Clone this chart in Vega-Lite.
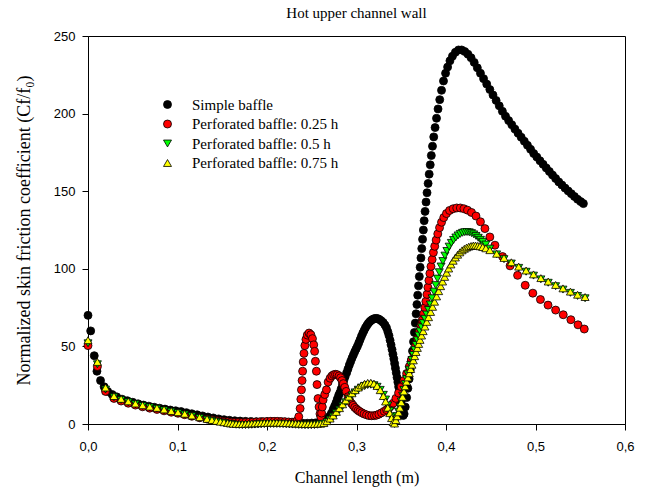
{
"$schema": "https://vega.github.io/schema/vega-lite/v6.json",
"width": 537,
"height": 388,
"autosize": {"type": "none"},
"padding": {"left": 88, "top": 36, "right": 25, "bottom": 66},
"background": "white",
"title": {"text": "Hot upper channel wall", "font": "Liberation Serif", "fontSize": 15, "fontWeight": "normal", "color": "black", "offset": 9},
"data": {"values": [
{"g":"a","x":0,"y":70},{"g":"a","x":0.003,"y":60},{"g":"a","x":0.007,"y":44},{"g":"a","x":0.01,"y":34},{"g":"a","x":0.014,"y":28},{"g":"a","x":0.018,"y":24},{"g":"a","x":0.022,"y":21},{"g":"a","x":0.027,"y":19},{"g":"a","x":0.032,"y":17.5},{"g":"a","x":0.038,"y":16},{"g":"a","x":0.044,"y":15},{"g":"a","x":0.05,"y":14},{"g":"a","x":0.056,"y":13},{"g":"a","x":0.062,"y":12.2},{"g":"a","x":0.068,"y":11.5},{"g":"a","x":0.074,"y":10.8},{"g":"a","x":0.08,"y":10.2},{"g":"a","x":0.086,"y":9.6},{"g":"a","x":0.092,"y":9},{"g":"a","x":0.098,"y":8.5},{"g":"a","x":0.104,"y":8},{"g":"a","x":0.11,"y":7.3},{"g":"a","x":0.116,"y":6.6},{"g":"a","x":0.122,"y":5.9},{"g":"a","x":0.128,"y":5.2},{"g":"a","x":0.134,"y":4.5},{"g":"a","x":0.14,"y":3.9},{"g":"a","x":0.146,"y":3.3},{"g":"a","x":0.152,"y":2.8},{"g":"a","x":0.158,"y":2.4},{"g":"a","x":0.164,"y":2.1},{"g":"a","x":0.17,"y":1.9},{"g":"a","x":0.176,"y":1.7},{"g":"a","x":0.182,"y":1.6},{"g":"a","x":0.188,"y":1.5},{"g":"a","x":0.194,"y":1.5},{"g":"a","x":0.2,"y":1.5},{"g":"a","x":0.205,"y":1.5},{"g":"a","x":0.21,"y":1.4},{"g":"a","x":0.215,"y":1.3},{"g":"a","x":0.22,"y":1.2},{"g":"a","x":0.225,"y":1},{"g":"a","x":0.23,"y":0.8},{"g":"a","x":0.235,"y":0.6},{"g":"a","x":0.24,"y":0.5},{"g":"a","x":0.245,"y":0.5},{"g":"a","x":0.25,"y":0.6},{"g":"a","x":0.254,"y":0.7},{"g":"a","x":0.2565,"y":0.8},{"g":"a","x":0.259,"y":1},{"g":"a","x":0.262,"y":1.6},{"g":"a","x":0.265,"y":2.5},{"g":"a","x":0.2675,"y":3.7},{"g":"a","x":0.27,"y":5},{"g":"a","x":0.272,"y":7},{"g":"a","x":0.274,"y":9.5},{"g":"a","x":0.2755,"y":11.4},{"g":"a","x":0.277,"y":13.5},{"g":"a","x":0.2785,"y":16},{"g":"a","x":0.28,"y":18.3},{"g":"a","x":0.2813,"y":20},{"g":"a","x":0.2828,"y":22.5},{"g":"a","x":0.2843,"y":25.3},{"g":"a","x":0.2858,"y":28},{"g":"a","x":0.2873,"y":30.5},{"g":"a","x":0.289,"y":33},{"g":"a","x":0.2905,"y":35.5},{"g":"a","x":0.292,"y":38},{"g":"a","x":0.2935,"y":40.3},{"g":"a","x":0.295,"y":42.5},{"g":"a","x":0.2965,"y":44.5},{"g":"a","x":0.298,"y":46.5},{"g":"a","x":0.2995,"y":48.3},{"g":"a","x":0.301,"y":50.1},{"g":"a","x":0.3025,"y":52.2},{"g":"a","x":0.304,"y":54.3},{"g":"a","x":0.3055,"y":56.5},{"g":"a","x":0.307,"y":58.5},{"g":"a","x":0.3085,"y":60.3},{"g":"a","x":0.31,"y":62},{"g":"a","x":0.3115,"y":63.4},{"g":"a","x":0.313,"y":64.7},{"g":"a","x":0.3145,"y":65.8},{"g":"a","x":0.316,"y":66.6},{"g":"a","x":0.3175,"y":67.2},{"g":"a","x":0.319,"y":67.7},{"g":"a","x":0.3207,"y":68},{"g":"a","x":0.3224,"y":68},{"g":"a","x":0.324,"y":67.8},{"g":"a","x":0.3255,"y":67.4},{"g":"a","x":0.3275,"y":66.6},{"g":"a","x":0.3298,"y":65.4},{"g":"a","x":0.3318,"y":63.8},{"g":"a","x":0.3335,"y":62},{"g":"a","x":0.335,"y":59.5},{"g":"a","x":0.3363,"y":57},{"g":"a","x":0.3375,"y":54},{"g":"a","x":0.3386,"y":51},{"g":"a","x":0.3397,"y":48},{"g":"a","x":0.3407,"y":45},{"g":"a","x":0.3417,"y":42},{"g":"a","x":0.3426,"y":39},{"g":"a","x":0.3435,"y":36},{"g":"a","x":0.3444,"y":33},{"g":"a","x":0.3453,"y":30},{"g":"a","x":0.3462,"y":27},{"g":"a","x":0.3471,"y":24},{"g":"a","x":0.348,"y":21},{"g":"a","x":0.3489,"y":18},{"g":"a","x":0.3498,"y":14.5},{"g":"a","x":0.3507,"y":11},{"g":"a","x":0.3515,"y":8},{"g":"a","x":0.3522,"y":5.5},{"g":"a","x":0.3532,"y":6.5},{"g":"a","x":0.3545,"y":11},{"g":"a","x":0.356,"y":17},{"g":"a","x":0.3574,"y":23},{"g":"a","x":0.3588,"y":29},{"g":"a","x":0.3601,"y":35},{"g":"a","x":0.3614,"y":41},{"g":"a","x":0.3626,"y":47},{"g":"a","x":0.3637,"y":53},{"g":"a","x":0.3647,"y":59},{"g":"a","x":0.3657,"y":65},{"g":"a","x":0.3666,"y":71},{"g":"a","x":0.3675,"y":77},{"g":"a","x":0.3684,"y":83},{"g":"a","x":0.3693,"y":89},{"g":"a","x":0.3702,"y":95},{"g":"a","x":0.3711,"y":101},{"g":"a","x":0.372,"y":107},{"g":"a","x":0.3729,"y":113},{"g":"a","x":0.3738,"y":119},{"g":"a","x":0.3747,"y":125},{"g":"a","x":0.3756,"y":131},{"g":"a","x":0.3766,"y":137},{"g":"a","x":0.3777,"y":143},{"g":"a","x":0.3788,"y":149},{"g":"a","x":0.38,"y":155},{"g":"a","x":0.3812,"y":161},{"g":"a","x":0.3824,"y":167},{"g":"a","x":0.3836,"y":173},{"g":"a","x":0.3849,"y":179},{"g":"a","x":0.3863,"y":185},{"g":"a","x":0.3878,"y":191},{"g":"a","x":0.3894,"y":197},{"g":"a","x":0.3911,"y":203},{"g":"a","x":0.393,"y":209},{"g":"a","x":0.395,"y":215},{"g":"a","x":0.3972,"y":221},{"g":"a","x":0.3995,"y":226},{"g":"a","x":0.4018,"y":230},{"g":"a","x":0.4044,"y":234},{"g":"a","x":0.4072,"y":237},{"g":"a","x":0.4105,"y":239.5},{"g":"a","x":0.414,"y":241},{"g":"a","x":0.4175,"y":241},{"g":"a","x":0.421,"y":240},{"g":"a","x":0.4245,"y":238.3},{"g":"a","x":0.428,"y":236},{"g":"a","x":0.4315,"y":233},{"g":"a","x":0.435,"y":229.5},{"g":"a","x":0.4385,"y":226},{"g":"a","x":0.442,"y":222.5},{"g":"a","x":0.4455,"y":219},{"g":"a","x":0.449,"y":215.5},{"g":"a","x":0.4525,"y":212},{"g":"a","x":0.456,"y":208.5},{"g":"a","x":0.4595,"y":205},{"g":"a","x":0.463,"y":201.5},{"g":"a","x":0.4665,"y":198.3},{"g":"a","x":0.47,"y":195.5},{"g":"a","x":0.4735,"y":192.8},{"g":"a","x":0.477,"y":190},{"g":"a","x":0.4805,"y":187.4},{"g":"a","x":0.484,"y":184.8},{"g":"a","x":0.4875,"y":182.2},{"g":"a","x":0.491,"y":179.6},{"g":"a","x":0.4945,"y":177},{"g":"a","x":0.498,"y":174.3},{"g":"a","x":0.5015,"y":172},{"g":"a","x":0.505,"y":169.6},{"g":"a","x":0.5085,"y":167.3},{"g":"a","x":0.512,"y":165},{"g":"a","x":0.5155,"y":162.7},{"g":"a","x":0.519,"y":160.4},{"g":"a","x":0.5225,"y":158.2},{"g":"a","x":0.526,"y":156},{"g":"a","x":0.5295,"y":154},{"g":"a","x":0.533,"y":152},{"g":"a","x":0.5365,"y":150.2},{"g":"a","x":0.54,"y":148.4},{"g":"a","x":0.5435,"y":146.6},{"g":"a","x":0.547,"y":144.8},{"g":"a","x":0.5505,"y":143.3},{"g":"a","x":0.5535,"y":142},
{"g":"b","x":0,"y":50.5},{"g":"b","x":0.0105,"y":37},{"g":"b","x":0.0196,"y":21},{"g":"b","x":0.029,"y":16.5},{"g":"b","x":0.037,"y":14.8},{"g":"b","x":0.045,"y":13.4},{"g":"b","x":0.053,"y":12.2},{"g":"b","x":0.061,"y":11.1},{"g":"b","x":0.069,"y":10.2},{"g":"b","x":0.077,"y":9.4},{"g":"b","x":0.085,"y":8.5},{"g":"b","x":0.093,"y":7.6},{"g":"b","x":0.1005,"y":6.9},{"g":"b","x":0.108,"y":6},{"g":"b","x":0.116,"y":5},{"g":"b","x":0.1247,"y":4},{"g":"b","x":0.133,"y":3.2},{"g":"b","x":0.1385,"y":2.7},{"g":"b","x":0.1434,"y":2.3},{"g":"b","x":0.148,"y":1.9},{"g":"b","x":0.152,"y":1.6},{"g":"b","x":0.156,"y":1.4},{"g":"b","x":0.16,"y":1.2},{"g":"b","x":0.164,"y":1},{"g":"b","x":0.168,"y":1},{"g":"b","x":0.172,"y":1},{"g":"b","x":0.176,"y":1},{"g":"b","x":0.18,"y":1.1},{"g":"b","x":0.184,"y":1.2},{"g":"b","x":0.188,"y":1.3},{"g":"b","x":0.192,"y":1.4},{"g":"b","x":0.196,"y":1.5},{"g":"b","x":0.2,"y":1.6},{"g":"b","x":0.204,"y":1.7},{"g":"b","x":0.208,"y":1.7},{"g":"b","x":0.212,"y":1.7},{"g":"b","x":0.216,"y":1.6},{"g":"b","x":0.22,"y":1.5},{"g":"b","x":0.224,"y":1.3},{"g":"b","x":0.228,"y":1.2},{"g":"b","x":0.231,"y":1.3},{"g":"b","x":0.2335,"y":2},{"g":"b","x":0.2355,"y":4.7},{"g":"b","x":0.237,"y":10},{"g":"b","x":0.2378,"y":16},{"g":"b","x":0.2385,"y":22},{"g":"b","x":0.2392,"y":28},{"g":"b","x":0.2398,"y":34},{"g":"b","x":0.2405,"y":40},{"g":"b","x":0.2413,"y":45.5},{"g":"b","x":0.2423,"y":50.5},{"g":"b","x":0.2435,"y":54.5},{"g":"b","x":0.245,"y":57.3},{"g":"b","x":0.247,"y":58.6},{"g":"b","x":0.249,"y":57.5},{"g":"b","x":0.2508,"y":55},{"g":"b","x":0.2522,"y":51},{"g":"b","x":0.2532,"y":46.8},{"g":"b","x":0.2541,"y":40.4},{"g":"b","x":0.2552,"y":34},{"g":"b","x":0.2559,"y":25.4},{"g":"b","x":0.257,"y":16.4},{"g":"b","x":0.2582,"y":11},{"g":"b","x":0.2592,"y":6.5},{"g":"b","x":0.2602,"y":4.5},{"g":"b","x":0.261,"y":7},{"g":"b","x":0.2618,"y":11},{"g":"b","x":0.2627,"y":15.5},{"g":"b","x":0.2645,"y":19},{"g":"b","x":0.2664,"y":22},{"g":"b","x":0.2683,"y":27},{"g":"b","x":0.2705,"y":29.5},{"g":"b","x":0.2725,"y":31},{"g":"b","x":0.2745,"y":31.8},{"g":"b","x":0.2765,"y":32},{"g":"b","x":0.2785,"y":31.8},{"g":"b","x":0.2805,"y":31},{"g":"b","x":0.2822,"y":29.8},{"g":"b","x":0.2838,"y":28},{"g":"b","x":0.2853,"y":26},{"g":"b","x":0.2869,"y":23.6},{"g":"b","x":0.2885,"y":21},{"g":"b","x":0.2906,"y":17.6},{"g":"b","x":0.2925,"y":15},{"g":"b","x":0.2945,"y":13.2},{"g":"b","x":0.2962,"y":12},{"g":"b","x":0.298,"y":10.7},{"g":"b","x":0.3,"y":9.6},{"g":"b","x":0.3018,"y":8.7},{"g":"b","x":0.3037,"y":8},{"g":"b","x":0.306,"y":7.2},{"g":"b","x":0.3085,"y":6.5},{"g":"b","x":0.3112,"y":5.9},{"g":"b","x":0.314,"y":5.4},{"g":"b","x":0.317,"y":5.3},{"g":"b","x":0.32,"y":5.4},{"g":"b","x":0.3224,"y":5.7},{"g":"b","x":0.325,"y":6.3},{"g":"b","x":0.328,"y":7.2},{"g":"b","x":0.331,"y":8.2},{"g":"b","x":0.3336,"y":9.2},{"g":"b","x":0.336,"y":10.3},{"g":"b","x":0.3385,"y":11.7},{"g":"b","x":0.341,"y":13.4},{"g":"b","x":0.344,"y":16.5},{"g":"b","x":0.347,"y":20},{"g":"b","x":0.35,"y":24},{"g":"b","x":0.353,"y":28},{"g":"b","x":0.356,"y":32.5},{"g":"b","x":0.359,"y":37},{"g":"b","x":0.3615,"y":41.5},{"g":"b","x":0.364,"y":46},{"g":"b","x":0.3662,"y":50.5},{"g":"b","x":0.3683,"y":55},{"g":"b","x":0.3703,"y":59.5},{"g":"b","x":0.372,"y":63.5},{"g":"b","x":0.3735,"y":67},{"g":"b","x":0.375,"y":71},{"g":"b","x":0.3763,"y":75},{"g":"b","x":0.3775,"y":79},{"g":"b","x":0.3787,"y":83.5},{"g":"b","x":0.3798,"y":88},{"g":"b","x":0.3809,"y":92.5},{"g":"b","x":0.382,"y":97},{"g":"b","x":0.3832,"y":101.5},{"g":"b","x":0.3845,"y":106},{"g":"b","x":0.3859,"y":110.5},{"g":"b","x":0.3874,"y":114.5},{"g":"b","x":0.389,"y":118.5},{"g":"b","x":0.3908,"y":122.5},{"g":"b","x":0.3928,"y":126.5},{"g":"b","x":0.395,"y":130},{"g":"b","x":0.3975,"y":133},{"g":"b","x":0.4005,"y":135.6},{"g":"b","x":0.404,"y":137.6},{"g":"b","x":0.408,"y":138.7},{"g":"b","x":0.412,"y":139.2},{"g":"b","x":0.416,"y":139.2},{"g":"b","x":0.42,"y":138.7},{"g":"b","x":0.424,"y":137.8},{"g":"b","x":0.4285,"y":136.3},{"g":"b","x":0.4335,"y":134},{"g":"b","x":0.4385,"y":130.3},{"g":"b","x":0.4435,"y":125.9},{"g":"b","x":0.449,"y":120.5},{"g":"b","x":0.4547,"y":115.2},{"g":"b","x":0.4632,"y":107.9},{"g":"b","x":0.4716,"y":101.9},{"g":"b","x":0.48,"y":95.8},{"g":"b","x":0.4885,"y":89.4},{"g":"b","x":0.497,"y":84.3},{"g":"b","x":0.5055,"y":80.2},{"g":"b","x":0.514,"y":76.6},{"g":"b","x":0.5225,"y":73.4},{"g":"b","x":0.531,"y":70.4},{"g":"b","x":0.5395,"y":67.2},{"g":"b","x":0.5475,"y":63.9},{"g":"b","x":0.5545,"y":61.2},
{"g":"c","x":0,"y":52},{"g":"c","x":0.0105,"y":38.5},{"g":"c","x":0.0196,"y":22.2},{"g":"c","x":0.029,"y":17.2},{"g":"c","x":0.037,"y":15.5},{"g":"c","x":0.045,"y":14},{"g":"c","x":0.053,"y":12.7},{"g":"c","x":0.061,"y":11.6},{"g":"c","x":0.069,"y":10.7},{"g":"c","x":0.077,"y":9.8},{"g":"c","x":0.085,"y":8.8},{"g":"c","x":0.093,"y":7.9},{"g":"c","x":0.1005,"y":7.1},{"g":"c","x":0.108,"y":6.1},{"g":"c","x":0.116,"y":5},{"g":"c","x":0.1247,"y":3.9},{"g":"c","x":0.133,"y":2.8},{"g":"c","x":0.1385,"y":2.1},{"g":"c","x":0.1434,"y":1.5},{"g":"c","x":0.148,"y":1},{"g":"c","x":0.152,"y":0.6},{"g":"c","x":0.156,"y":0.2},{"g":"c","x":0.159,"y":-0.1},{"g":"c","x":0.162,"y":-0.3},{"g":"c","x":0.1655,"y":-0.5},{"g":"c","x":0.169,"y":-0.6},{"g":"c","x":0.1725,"y":-0.7},{"g":"c","x":0.176,"y":-0.7},{"g":"c","x":0.1795,"y":-0.6},{"g":"c","x":0.183,"y":-0.5},{"g":"c","x":0.1865,"y":-0.4},{"g":"c","x":0.19,"y":-0.3},{"g":"c","x":0.1935,"y":-0.2},{"g":"c","x":0.197,"y":-0.1},{"g":"c","x":0.2005,"y":0},{"g":"c","x":0.204,"y":0},{"g":"c","x":0.2075,"y":0},{"g":"c","x":0.211,"y":0},{"g":"c","x":0.2145,"y":0},{"g":"c","x":0.218,"y":-0.1},{"g":"c","x":0.2215,"y":-0.2},{"g":"c","x":0.225,"y":-0.3},{"g":"c","x":0.2285,"y":-0.4},{"g":"c","x":0.232,"y":-0.5},{"g":"c","x":0.2355,"y":-0.6},{"g":"c","x":0.239,"y":-0.7},{"g":"c","x":0.2425,"y":-0.8},{"g":"c","x":0.246,"y":-0.8},{"g":"c","x":0.2495,"y":-0.8},{"g":"c","x":0.253,"y":-0.7},{"g":"c","x":0.2565,"y":-0.5},{"g":"c","x":0.26,"y":-0.2},{"g":"c","x":0.2635,"y":0.2},{"g":"c","x":0.267,"y":1.2},{"g":"c","x":0.2705,"y":2.8},{"g":"c","x":0.274,"y":4.7},{"g":"c","x":0.2775,"y":6.9},{"g":"c","x":0.281,"y":9.2},{"g":"c","x":0.2845,"y":11.6},{"g":"c","x":0.288,"y":14},{"g":"c","x":0.2915,"y":16.3},{"g":"c","x":0.295,"y":18.5},{"g":"c","x":0.2985,"y":20.4},{"g":"c","x":0.302,"y":22.1},{"g":"c","x":0.3055,"y":23.5},{"g":"c","x":0.309,"y":24.5},{"g":"c","x":0.3125,"y":25.1},{"g":"c","x":0.316,"y":25.3},{"g":"c","x":0.3195,"y":25},{"g":"c","x":0.323,"y":24},{"g":"c","x":0.3265,"y":22},{"g":"c","x":0.33,"y":18.8},{"g":"c","x":0.3325,"y":15.8},{"g":"c","x":0.335,"y":12},{"g":"c","x":0.3372,"y":8.5},{"g":"c","x":0.3392,"y":5},{"g":"c","x":0.341,"y":2},{"g":"c","x":0.3425,"y":0},{"g":"c","x":0.344,"y":2.2},{"g":"c","x":0.3455,"y":5},{"g":"c","x":0.347,"y":8},{"g":"c","x":0.3485,"y":11},{"g":"c","x":0.35,"y":14.5},{"g":"c","x":0.3515,"y":18.3},{"g":"c","x":0.353,"y":22},{"g":"c","x":0.3545,"y":25.7},{"g":"c","x":0.356,"y":29},{"g":"c","x":0.3575,"y":32},{"g":"c","x":0.359,"y":35},{"g":"c","x":0.3605,"y":38},{"g":"c","x":0.362,"y":41.2},{"g":"c","x":0.3635,"y":44.5},{"g":"c","x":0.365,"y":47.8},{"g":"c","x":0.3665,"y":51},{"g":"c","x":0.368,"y":54},{"g":"c","x":0.3695,"y":57},{"g":"c","x":0.371,"y":59.7},{"g":"c","x":0.3727,"y":62.3},{"g":"c","x":0.3745,"y":65},{"g":"c","x":0.3765,"y":67.8},{"g":"c","x":0.3785,"y":70.5},{"g":"c","x":0.3805,"y":73.5},{"g":"c","x":0.3825,"y":77},{"g":"c","x":0.3845,"y":81},{"g":"c","x":0.3865,"y":85.3},{"g":"c","x":0.3885,"y":89.5},{"g":"c","x":0.3905,"y":93.7},{"g":"c","x":0.3925,"y":97.8},{"g":"c","x":0.3945,"y":101.5},{"g":"c","x":0.3965,"y":105},{"g":"c","x":0.3988,"y":108.5},{"g":"c","x":0.401,"y":111.5},{"g":"c","x":0.4035,"y":114.3},{"g":"c","x":0.406,"y":116.7},{"g":"c","x":0.4085,"y":118.6},{"g":"c","x":0.411,"y":120.2},{"g":"c","x":0.4135,"y":121.5},{"g":"c","x":0.416,"y":122.5},{"g":"c","x":0.4185,"y":123.2},{"g":"c","x":0.421,"y":123.6},{"g":"c","x":0.4235,"y":123.7},{"g":"c","x":0.426,"y":123.5},{"g":"c","x":0.4285,"y":123},{"g":"c","x":0.431,"y":122.2},{"g":"c","x":0.4335,"y":121.2},{"g":"c","x":0.436,"y":120},{"g":"c","x":0.4385,"y":118.7},{"g":"c","x":0.441,"y":117.4},{"g":"c","x":0.4445,"y":115.6},{"g":"c","x":0.449,"y":113},{"g":"c","x":0.4566,"y":109.3},{"g":"c","x":0.4648,"y":106.2},{"g":"c","x":0.473,"y":103.4},{"g":"c","x":0.4812,"y":100.6},{"g":"c","x":0.4895,"y":98.1},{"g":"c","x":0.4978,"y":95.6},{"g":"c","x":0.506,"y":93.2},{"g":"c","x":0.5142,"y":91},{"g":"c","x":0.5225,"y":88.8},{"g":"c","x":0.5307,"y":86.6},{"g":"c","x":0.539,"y":84.5},{"g":"c","x":0.547,"y":82.5},{"g":"c","x":0.5554,"y":81},
{"g":"d","x":0,"y":54},{"g":"d","x":0.0105,"y":40},{"g":"d","x":0.0196,"y":23.5},{"g":"d","x":0.029,"y":18},{"g":"d","x":0.037,"y":16.2},{"g":"d","x":0.045,"y":14.6},{"g":"d","x":0.053,"y":13.2},{"g":"d","x":0.061,"y":12.1},{"g":"d","x":0.069,"y":11.2},{"g":"d","x":0.077,"y":10.4},{"g":"d","x":0.085,"y":9.4},{"g":"d","x":0.093,"y":8.4},{"g":"d","x":0.1005,"y":7.6},{"g":"d","x":0.108,"y":6.6},{"g":"d","x":0.116,"y":5.5},{"g":"d","x":0.1247,"y":4.4},{"g":"d","x":0.133,"y":3.3},{"g":"d","x":0.1385,"y":2.6},{"g":"d","x":0.1434,"y":2},{"g":"d","x":0.148,"y":1.5},{"g":"d","x":0.152,"y":1.1},{"g":"d","x":0.156,"y":0.7},{"g":"d","x":0.159,"y":0.4},{"g":"d","x":0.162,"y":0.2},{"g":"d","x":0.1655,"y":0.1},{"g":"d","x":0.169,"y":0},{"g":"d","x":0.1725,"y":0},{"g":"d","x":0.176,"y":0.1},{"g":"d","x":0.1795,"y":0.2},{"g":"d","x":0.183,"y":0.3},{"g":"d","x":0.1865,"y":0.4},{"g":"d","x":0.19,"y":0.5},{"g":"d","x":0.1935,"y":0.6},{"g":"d","x":0.197,"y":0.7},{"g":"d","x":0.2005,"y":0.7},{"g":"d","x":0.204,"y":0.8},{"g":"d","x":0.2075,"y":0.8},{"g":"d","x":0.211,"y":0.8},{"g":"d","x":0.2145,"y":0.8},{"g":"d","x":0.218,"y":0.7},{"g":"d","x":0.2215,"y":0.6},{"g":"d","x":0.225,"y":0.5},{"g":"d","x":0.2285,"y":0.4},{"g":"d","x":0.232,"y":0.3},{"g":"d","x":0.2355,"y":0.2},{"g":"d","x":0.239,"y":0.1},{"g":"d","x":0.2425,"y":0},{"g":"d","x":0.246,"y":0},{"g":"d","x":0.2495,"y":0},{"g":"d","x":0.253,"y":0},{"g":"d","x":0.2565,"y":0.1},{"g":"d","x":0.26,"y":0.2},{"g":"d","x":0.2635,"y":0.6},{"g":"d","x":0.267,"y":1.8},{"g":"d","x":0.2705,"y":3.5},{"g":"d","x":0.274,"y":5.5},{"g":"d","x":0.2775,"y":7.8},{"g":"d","x":0.281,"y":10.2},{"g":"d","x":0.2845,"y":12.7},{"g":"d","x":0.288,"y":15.2},{"g":"d","x":0.2915,"y":17.6},{"g":"d","x":0.295,"y":19.8},{"g":"d","x":0.2985,"y":21.8},{"g":"d","x":0.302,"y":23.5},{"g":"d","x":0.3055,"y":24.9},{"g":"d","x":0.309,"y":25.9},{"g":"d","x":0.3125,"y":26.5},{"g":"d","x":0.316,"y":26.6},{"g":"d","x":0.3195,"y":26},{"g":"d","x":0.323,"y":24.5},{"g":"d","x":0.3265,"y":21.8},{"g":"d","x":0.33,"y":18},{"g":"d","x":0.3325,"y":14.5},{"g":"d","x":0.335,"y":10.5},{"g":"d","x":0.3372,"y":7},{"g":"d","x":0.3392,"y":3.8},{"g":"d","x":0.341,"y":1.2},{"g":"d","x":0.3425,"y":0.3},{"g":"d","x":0.344,"y":2.5},{"g":"d","x":0.3455,"y":5},{"g":"d","x":0.347,"y":7.5},{"g":"d","x":0.3485,"y":10.5},{"g":"d","x":0.35,"y":14},{"g":"d","x":0.3515,"y":17.5},{"g":"d","x":0.353,"y":21},{"g":"d","x":0.3545,"y":24.3},{"g":"d","x":0.356,"y":27.3},{"g":"d","x":0.3575,"y":30},{"g":"d","x":0.359,"y":32.7},{"g":"d","x":0.3605,"y":35.4},{"g":"d","x":0.362,"y":38.2},{"g":"d","x":0.3635,"y":41},{"g":"d","x":0.365,"y":43.7},{"g":"d","x":0.3665,"y":46.4},{"g":"d","x":0.368,"y":49},{"g":"d","x":0.3695,"y":51.6},{"g":"d","x":0.371,"y":54.2},{"g":"d","x":0.3727,"y":57},{"g":"d","x":0.3745,"y":59.8},{"g":"d","x":0.3765,"y":62.8},{"g":"d","x":0.3785,"y":65.8},{"g":"d","x":0.3805,"y":68.8},{"g":"d","x":0.3828,"y":72.2},{"g":"d","x":0.385,"y":75.5},{"g":"d","x":0.3872,"y":78.8},{"g":"d","x":0.3895,"y":82.2},{"g":"d","x":0.3918,"y":85.6},{"g":"d","x":0.394,"y":88.8},{"g":"d","x":0.3962,"y":91.8},{"g":"d","x":0.3985,"y":94.8},{"g":"d","x":0.4007,"y":97.5},{"g":"d","x":0.403,"y":100.2},{"g":"d","x":0.4055,"y":102.8},{"g":"d","x":0.408,"y":105.2},{"g":"d","x":0.4105,"y":107.3},{"g":"d","x":0.413,"y":109.1},{"g":"d","x":0.4155,"y":110.6},{"g":"d","x":0.418,"y":111.9},{"g":"d","x":0.4205,"y":112.9},{"g":"d","x":0.423,"y":113.7},{"g":"d","x":0.4255,"y":114.3},{"g":"d","x":0.428,"y":114.7},{"g":"d","x":0.4305,"y":115},{"g":"d","x":0.433,"y":115},{"g":"d","x":0.4355,"y":114.8},{"g":"d","x":0.438,"y":114.5},{"g":"d","x":0.441,"y":114},{"g":"d","x":0.4445,"y":113.2},{"g":"d","x":0.449,"y":112},{"g":"d","x":0.4566,"y":109.7},{"g":"d","x":0.4648,"y":107},{"g":"d","x":0.473,"y":104.2},{"g":"d","x":0.4812,"y":101.4},{"g":"d","x":0.4895,"y":98.9},{"g":"d","x":0.4978,"y":96.4},{"g":"d","x":0.506,"y":94},{"g":"d","x":0.5142,"y":91.8},{"g":"d","x":0.5225,"y":89.6},{"g":"d","x":0.5307,"y":87.4},{"g":"d","x":0.539,"y":85.3},{"g":"d","x":0.547,"y":83.3},{"g":"d","x":0.5554,"y":81.8}
]},
"transform": [
{"lookup": "g", "from": {"data": {"values": [
{"g":"a","series":"Simple baffle"},
{"g":"b","series":"Perforated baffle: 0.25 h"},
{"g":"c","series":"Perforated baffle: 0.5 h"},
{"g":"d","series":"Perforated baffle: 0.75 h"}
]}, "key": "g", "fields": ["series"]}}
],
"mark": {"type": "point", "filled": true, "stroke": "black", "strokeWidth": 0.8, "opacity": 1, "size": 64},
"encoding": {
"x": {"field": "x", "type": "quantitative",
 "scale": {"domain": [0, 0.6], "nice": false, "zero": false},
 "axis": {"title": "Channel length (m)", "values": [0, 0.1, 0.2, 0.3, 0.4, 0.5, 0.6],
  "labelExpr": "replace(format(datum.value, '.1f'), '.', ',')",
  "labelPadding": 10, "titlePadding": 16, "titleFontSize": 16}},
"y": {"field": "y", "type": "quantitative",
 "scale": {"domain": [0, 250], "nice": false, "zero": false},
 "axis": {"title": "Normalized skin friction coefficient (Cf/f₀)", "values": [0, 50, 100, 150, 200, 250], "titlePadding": 20, "titleFontSize": 18}},
"color": {"field": "series", "type": "nominal",
 "scale": {"domain": ["Simple baffle", "Perforated baffle: 0.25 h", "Perforated baffle: 0.5 h", "Perforated baffle: 0.75 h"], "range": ["#000000", "#ff0000", "#00ff00", "#ffff00"]},
 "legend": {"title": null, "orient": "none", "legendX": 72, "legendY": 61}},
"shape": {"field": "series", "type": "nominal",
 "scale": {"domain": ["Simple baffle", "Perforated baffle: 0.25 h", "Perforated baffle: 0.5 h", "Perforated baffle: 0.75 h"], "range": ["circle", "circle", "triangle-down", "triangle-up"]},
 "legend": {"title": null, "orient": "none", "legendX": 72, "legendY": 61}}
},
"config": {
"view": {"stroke": "black", "strokeWidth": 1},
"axis": {"grid": false, "domainColor": "black", "tickColor": "black", "tickSize": 6, "labelPadding": 7,
 "labelFont": "Liberation Sans", "labelFontSize": 13, "labelColor": "black", "labelFlush": false,
 "titleFont": "Liberation Serif", "titleFontSize": 16, "titleFontWeight": "normal", "titleColor": "black"},
"legend": {"labelFont": "Liberation Serif", "labelFontSize": 15, "labelColor": "black", "symbolSize": 64,
 "symbolStrokeColor": "black", "symbolStrokeWidth": 0.8, "rowPadding": 3.5, "labelOffset": 17, "padding": 0, "symbolType": "circle"}
}
}
